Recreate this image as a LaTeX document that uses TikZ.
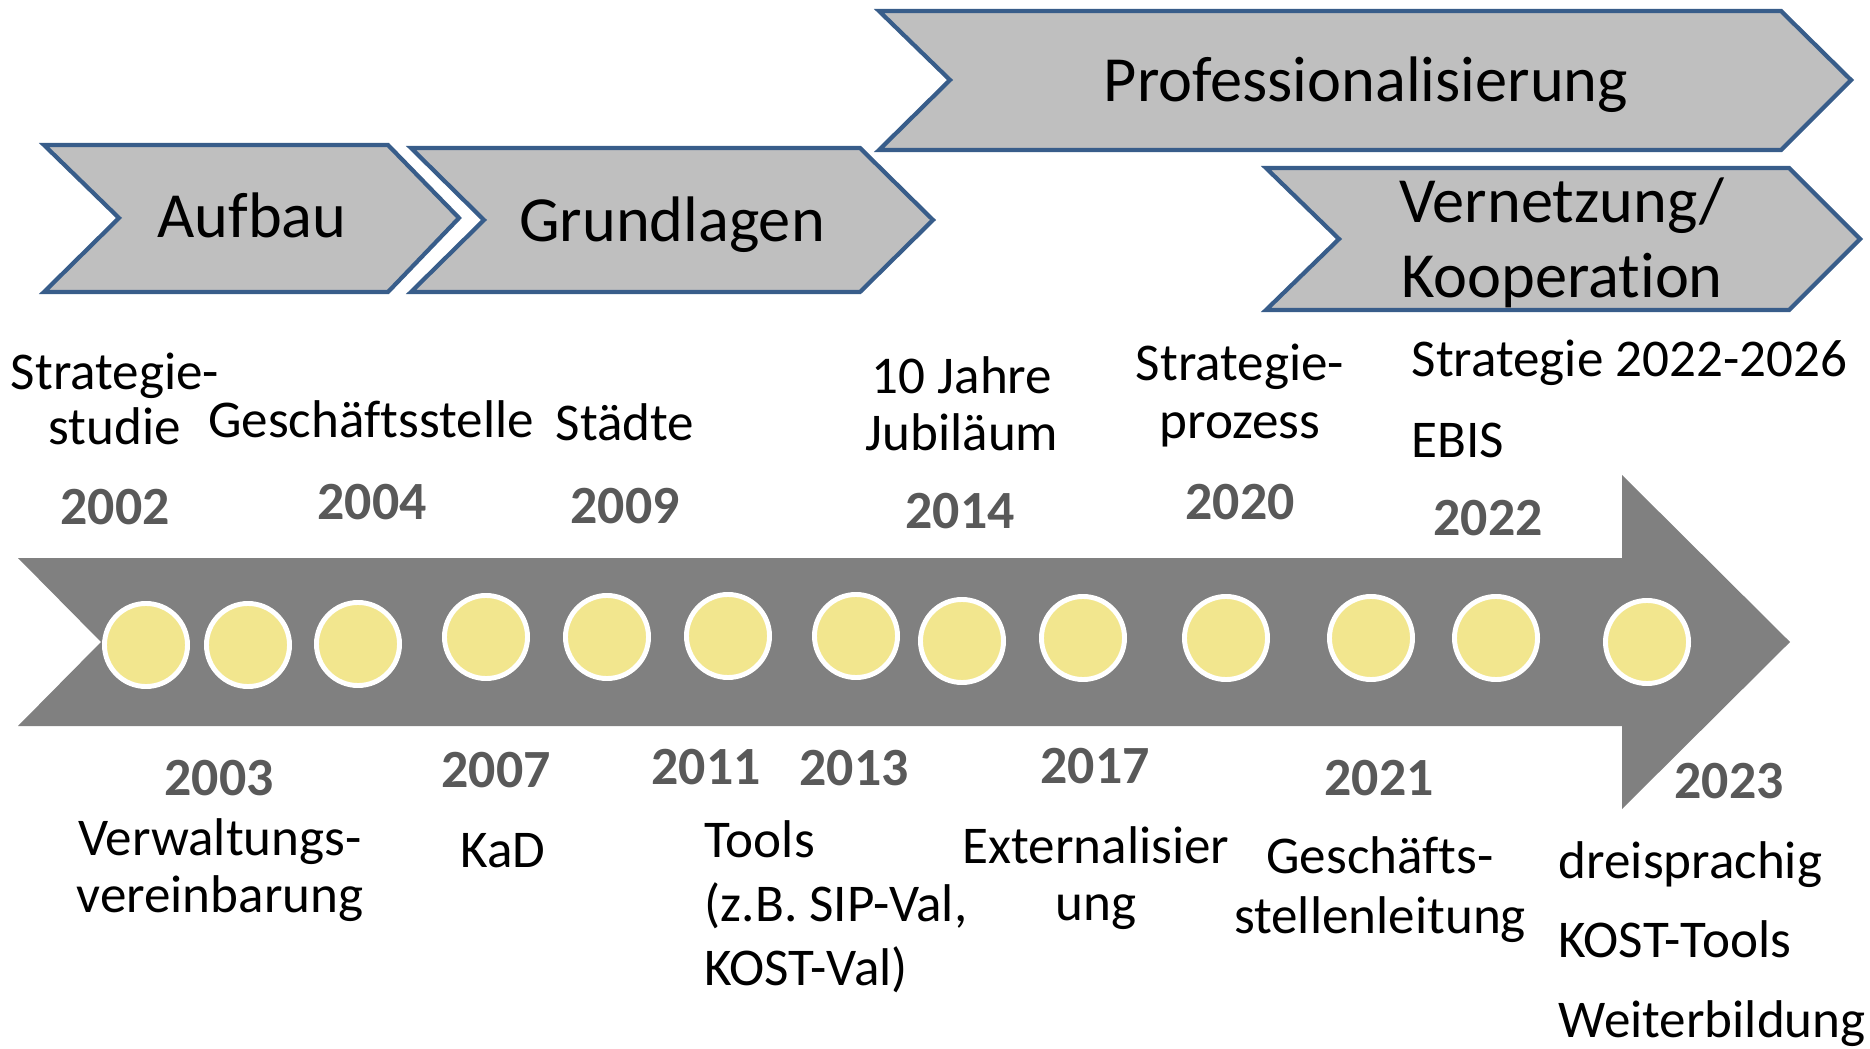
\documentclass[tikz,border=0pt]{standalone}
\usepackage{fontspec}
\setmainfont{Carlito}[Ligatures=NoCommon]
\usepackage{tikz}

\begin{document}
\begin{tikzpicture}[x=0.01cm, y=-0.01cm,
    phase/.style={draw=phaseblue, fill=phasegray, line width=1.2pt, line join=miter},
    phasetext/.style={font=\fontsize{18.3}{21.6}\selectfont, anchor=base, align=center, inner sep=0pt},
    dot/.style={circle, fill=dotyellow, draw=white, line width=1.4pt, minimum size=0.83cm, inner sep=0pt},
    year/.style={font=\fontsize{15.3}{18}\selectfont\bfseries, text=yeargray, anchor=base, inner sep=0pt},
    lbl/.style={font=\fontsize{15.1}{#1}\selectfont, anchor=base, align=center, inner sep=0pt},
    lbl/.default=17,
    lbll/.style={lbl=#1, align=left, anchor=base west},
    lbll/.default=17]
    % Define colors
    \definecolor{phaseblue}{RGB}{56, 93, 138}
    \definecolor{phasegray}{RGB}{191, 191, 191}
    \definecolor{arrowgray}{RGB}{128, 128, 128}
    \definecolor{dotyellow}{RGB}{242, 230, 142}
    \definecolor{yeargray}{RGB}{89, 89, 89}

    \useasboundingbox (0,0) rectangle (1870,1049);

    % Phases
    \draw[phase] (44,145) -- (388,145) -- (459,218) -- (388,292) -- (44,292) -- (119,218) -- cycle;
    \node[phasetext] (aufbau) at (252,238) {Aufbau};
    \draw[phase] (411,148) -- (860,148) -- (933,220) -- (860,292) -- (411,292) -- (484,220) -- cycle;
    \node[phasetext] (grundlagen) at (672,242) {Grundlagen};
    \draw[phase] (879,11) -- (1781,11) -- (1851,80) -- (1781,150) -- (879,150) -- (950,80) -- cycle;
    \node[phasetext] (prof) at (1366,102) {Professionalisierung};
    \draw[phase] (1266,168) -- (1789,168) -- (1860,239) -- (1789,310) -- (1266,310) -- (1339,239) -- cycle;
    \node[phasetext] (vernetzung) at (1562,298) {Vernetzung/\\Kooperation};

    % Timeline arrow
    \fill[arrowgray] (18,558) -- (1622,558) -- (1622,475) -- (1790,642) -- (1622,809)
        -- (1622,726) -- (18,726) -- (101,642) -- cycle;

    % Milestones
    \foreach \x/\y [count=\i] in {146/645, 248/645, 358/644, 486/637, 607/637, 728/636, 856/636,
                                  962/641, 1083/638, 1226/638, 1371/638, 1496/638, 1647/642} {
        \node[dot] (m\i) at (\x,\y) {};
    }

    % Years above
    \node[year] (y2002) at (115,524) {2002};
    \node[year] (y2004) at (372,519) {2004};
    \node[year] (y2009) at (625,523) {2009};
    \node[year] (y2014) at (960,528) {2014};
    \node[year] (y2020) at (1240,519) {2020};
    \node[year] (y2022) at (1488,535) {2022};

    % Years below
    \node[year] (y2003) at (219,795) {2003};
    \node[year] (y2007) at (496,787) {2007};
    \node[year] (y2011) at (706,784) {2011};
    \node[year] (y2013) at (854,785) {2013};
    \node[year] (y2017) at (1095,783) {2017};
    \node[year] (y2021) at (1379,795) {2021};
    \node[year] (y2023) at (1729,798) {2023};

    % Events above
    \node[lbl=15.6] (studie) at (115,444) {Strategie-\\studie};
    \node[lbl] (gstelle) at (371,438) {Geschäftsstelle};
    \node[lbl] (staedte) at (625,440) {Städte};
    \node[lbl=16.2] (jubilaeum) at (962,450) {10 Jahre\\Jubiläum};
    \node[lbl=16.5] (prozess) at (1240,439) {Strategie-\\prozess};
    \node[lbll=23] (ebis) at (1411,457) {Strategie 2022-2026\\EBIS};

    % Events below
    \node[lbl=16.2] (vereinb) at (220,912) {Verwaltungs-\\vereinbarung};
    \node[lbl] (kad) at (503,867) {KaD};
    \node[lbll=18.2] (tools) at (704,985) {Tools\\(z.B. SIP-Val,\\KOST-Val)};
    \node[lbl=16.2] (extern) at (1096,920) {Externalisier\\ung};
    \node[lbl=17] (gsleitung) at (1380,933) {Geschäfts-\\stellenleitung};
    \node[lbll=22.6] (dreisprachig) at (1558,1037) {dreisprachig\\KOST-Tools\\Weiterbildung};
\end{tikzpicture}
\end{document}
